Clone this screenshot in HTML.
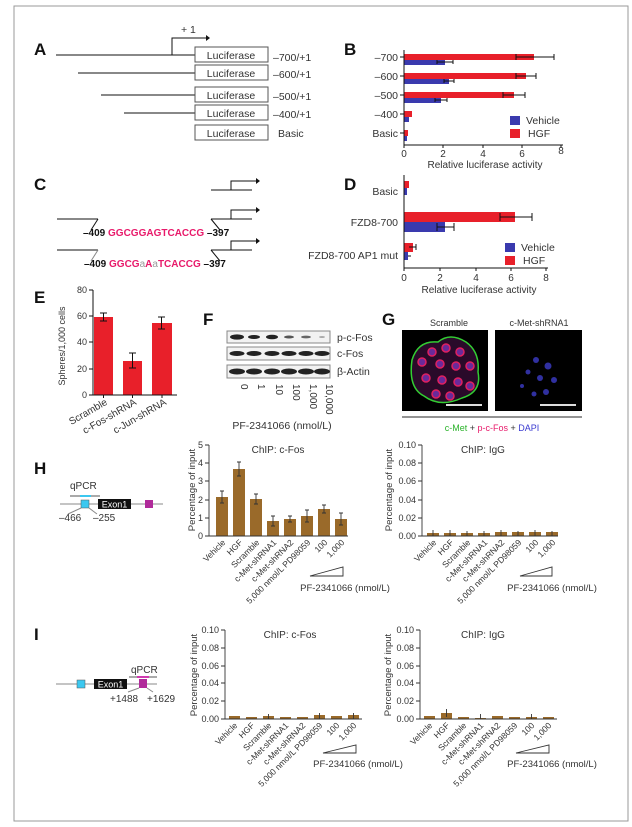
<!DOCTYPE html>
<html><head><meta charset="utf-8"><style>
html,body{margin:0;padding:0;background:#fff}
svg{display:block;font-family:"Liberation Sans",Arial,sans-serif}
</style></head><body>
<svg width="632" height="827" viewBox="0 0 632 827" xmlns="http://www.w3.org/2000/svg">
<rect x="14" y="6" width="614" height="815" fill="#fff" stroke="#999" stroke-width="1"/>
<g font-weight="bold" font-size="17" fill="#111">
<text x="34" y="55">A</text><text x="344" y="55">B</text><text x="34" y="190">C</text><text x="344" y="190">D</text>
<text x="34" y="303">E</text><text x="203" y="325">F</text><text x="382" y="325">G</text><text x="34" y="474">H</text><text x="34" y="640">I</text>
</g>
<!-- A -->
<g stroke="#111" stroke-width="1" fill="none">
<line x1="56" y1="55" x2="195" y2="55"/><polyline points="172,55 172,38 206,38"/>
<line x1="78" y1="73" x2="195" y2="73"/><line x1="101" y1="95" x2="195" y2="95"/><line x1="124" y1="113" x2="195" y2="113"/>
<rect x="195" y="47" width="73" height="15" stroke="#555"/><rect x="195" y="65" width="73" height="15" stroke="#555"/>
<rect x="195" y="87" width="73" height="15" stroke="#555"/><rect x="195" y="105" width="73" height="15" stroke="#555"/><rect x="195" y="125" width="73" height="15" stroke="#555"/>
</g>
<polygon points="206,35 210,38 206,41" fill="#111"/>
<g font-size="10.5" fill="#333">
<text x="181" y="33">+ 1</text>
<g text-anchor="middle"><text x="231" y="59">Luciferase</text><text x="231" y="77">Luciferase</text><text x="231" y="99">Luciferase</text><text x="231" y="117">Luciferase</text><text x="231" y="137">Luciferase</text></g>
<text x="273" y="61">–700/+1</text><text x="273" y="78">–600/+1</text><text x="273" y="100">–500/+1</text><text x="273" y="118">–400/+1</text><text x="278" y="137">Basic</text>
</g>
<!-- B -->
<g transform="translate(-5,0)">
<rect x="409" y="54" width="130" height="6" fill="#e8202a"/><rect x="409" y="60" width="41" height="5" fill="#3a3aae"/>
<rect x="409" y="73" width="122" height="6" fill="#e8202a"/><rect x="409" y="79" width="45" height="5" fill="#3a3aae"/>
<rect x="409" y="92" width="110" height="6" fill="#e8202a"/><rect x="409" y="98" width="37" height="5" fill="#3a3aae"/>
<rect x="409" y="111" width="8" height="6" fill="#e8202a"/><rect x="409" y="117" width="5" height="5" fill="#3a3aae"/>
<rect x="409" y="130" width="4" height="6" fill="#e8202a"/><rect x="409" y="136" width="3" height="5" fill="#3a3aae"/>
<g stroke="#111" stroke-width="1" fill="none">
<path d="M521 57H559M521 54v6M559 54v6M442 62H458M442 60v4M458 60v4M521 76H541M521 73v6M541 73v6M449 81H459M449 79v4M459 79v4M508 95H530M508 92v6M530 92v6M440 100H452M440 98v4M452 98v4"/>
<line x1="409" y1="50" x2="409" y2="145"/><line x1="409" y1="145" x2="568" y2="145"/>
<path d="M409 145v3M448 145v3M488 145v3M527 145v3M566 145v3"/>
<path d="M405 57h4M405 76h4M405 95h4M405 114h4M405 133h4"/>
</g>
<g font-size="10.5" fill="#333" text-anchor="end"><text x="403" y="61">–700</text><text x="403" y="80">–600</text><text x="403" y="99">–500</text><text x="403" y="118">–400</text><text x="403" y="137">Basic</text></g>
<g font-size="10" fill="#333" text-anchor="middle"><text x="409" y="157">0</text><text x="448" y="157">2</text><text x="488" y="157">4</text><text x="527" y="157">6</text><text x="566" y="154">8</text>
<text x="490" y="168">Relative luciferase activity</text></g>
<rect x="515" y="116" width="10" height="9" fill="#3a3aae"/><rect x="515" y="129" width="10" height="9" fill="#e8202a"/>
<g font-size="10.5" fill="#333"><text x="531" y="124">Vehicle</text><text x="533" y="137">HGF</text></g>
</g>
<!-- C -->
<g stroke="#111" stroke-width="1" fill="none">
<line x1="211" y1="190" x2="252" y2="190"/><polyline points="231,190 231,181 256,181"/>
<line x1="57" y1="219" x2="98" y2="219"/><line x1="98" y1="219" x2="91" y2="230"/>
<line x1="211" y1="219" x2="252" y2="219"/><line x1="211" y1="219" x2="220" y2="230"/><polyline points="231,219 231,210 256,210"/>
<line x1="57" y1="250" x2="98" y2="250"/><line x1="98" y1="250" x2="91" y2="261" stroke="#888"/>
<line x1="211" y1="250" x2="252" y2="250"/><line x1="211" y1="250" x2="220" y2="261"/><polyline points="231,250 231,241 256,241"/>
</g>
<g fill="#111"><polygon points="256,178 260,181 256,184"/><polygon points="256,207 260,210 256,213"/><polygon points="256,238 260,241 256,244"/></g>
<g font-size="10" font-weight="bold">
<text x="83" y="236" fill="#111">–409 <tspan fill="#e8196a">GGCGGAGTCACCG</tspan> –397</text>
<text x="84" y="267" fill="#111">–409 <tspan fill="#e8196a">GGCG</tspan><tspan fill="#999" font-weight="normal">a</tspan><tspan fill="#e8196a">A</tspan><tspan fill="#999" font-weight="normal">a</tspan><tspan fill="#e8196a">TCACCG</tspan> –397</text>
</g>
<!-- D -->
<g transform="translate(-5,0)">
<rect x="409" y="181" width="5" height="7" fill="#e8202a"/><rect x="409" y="188" width="3" height="7" fill="#3a3aae"/>
<rect x="409" y="212" width="111" height="10" fill="#e8202a"/><rect x="409" y="222" width="41" height="10" fill="#3a3aae"/>
<rect x="409" y="243" width="9" height="9" fill="#e8202a"/><rect x="409" y="252" width="4" height="8" fill="#3a3aae"/>
<g stroke="#111" stroke-width="1" fill="none">
<path d="M505 217H537M505 213v8M537 213v8M442 227H459M442 223v8M459 223v8M414 247H421M421 244v6M413 256h3"/>
<line x1="409" y1="175" x2="409" y2="268"/><line x1="409" y1="268" x2="553" y2="268"/>
<path d="M409 268v3M445 268v3M481 268v3M516 268v3M551 268v3"/>
</g>
<g font-size="10.5" fill="#333" text-anchor="end"><text x="403" y="195">Basic</text><text x="403" y="226">FZD8-700</text><text x="403" y="259">FZD8-700 AP1 mut</text></g>
<g font-size="10" fill="#333" text-anchor="middle"><text x="409" y="281">0</text><text x="445" y="281">2</text><text x="481" y="281">4</text><text x="516" y="281">6</text><text x="551" y="281">8</text>
<text x="484" y="293">Relative luciferase activity</text></g>
<rect x="510" y="243" width="10" height="9" fill="#3a3aae"/><rect x="510" y="256" width="10" height="9" fill="#e8202a"/>
<g font-size="10.5" fill="#333"><text x="526" y="251">Vehicle</text><text x="528" y="264">HGF</text></g>
</g>
<!-- E -->
<g>
<rect x="94" y="317" width="19" height="78" fill="#e8202a"/><rect x="123" y="361" width="19" height="34" fill="#e8202a"/><rect x="152" y="323" width="20" height="72" fill="#e8202a"/>
<g stroke="#111" stroke-width="1" fill="none">
<path d="M100 313h7M103.5 313v8M100 321h7M129 353h7M132.5 353v15M129 368h7M158 317h7M161.5 317v12M158 329h7"/>
<line x1="93" y1="290" x2="93" y2="395"/><line x1="93" y1="395" x2="177" y2="395"/>
<path d="M89 290h4M89 316h4M89 342h4M89 369h4M89 395h4M103.5 395v3M132.5 395v3M162 395v3"/>
</g>
<g font-size="9" fill="#333" text-anchor="end"><text x="87" y="293">80</text><text x="87" y="319">60</text><text x="87" y="345">40</text><text x="87" y="372">20</text><text x="87" y="398">0</text></g>
<text transform="translate(65,346) rotate(-90)" font-size="9" fill="#333" text-anchor="middle">Spheres/1,000 cells</text>
<g font-size="10" fill="#333" text-anchor="end">
<text transform="translate(108,404) rotate(-30)">Scramble</text><text transform="translate(137,404) rotate(-30)">c-Fos-shRNA</text><text transform="translate(167,404) rotate(-30)">c-Jun-shRNA</text></g>
</g>
<!-- F -->
<g>
<rect x="227" y="331" width="103" height="12" fill="#f2f2f2" stroke="#888"/><rect x="227" y="347" width="103" height="13" fill="#f2f2f2" stroke="#888"/><rect x="227" y="365" width="103" height="13" fill="#f2f2f2" stroke="#888"/>
<g fill="#222">
<ellipse cx="237" cy="337" rx="7" ry="2.6"/><ellipse cx="254" cy="337" rx="6" ry="2"/><ellipse cx="272" cy="337" rx="6" ry="2.3"/><ellipse cx="289" cy="337" rx="5" ry="1.5" fill="#555"/><ellipse cx="306" cy="337" rx="5" ry="1.4" fill="#666"/><ellipse cx="322" cy="337" rx="3" ry="1" fill="#aaa"/>
<ellipse cx="237" cy="353.5" rx="7.5" ry="2.5"/><ellipse cx="254" cy="353.5" rx="7.5" ry="2.5"/><ellipse cx="272" cy="353.5" rx="7.5" ry="2.5"/><ellipse cx="289" cy="353.5" rx="7.5" ry="2.5"/><ellipse cx="306" cy="353.5" rx="7.5" ry="2.5"/><ellipse cx="322" cy="353.5" rx="7.5" ry="2.5"/>
<ellipse cx="237" cy="371.5" rx="8" ry="3"/><ellipse cx="254" cy="371.5" rx="8" ry="3"/><ellipse cx="272" cy="371.5" rx="8" ry="3"/><ellipse cx="289" cy="371.5" rx="8" ry="3"/><ellipse cx="306" cy="371.5" rx="8" ry="3"/><ellipse cx="322" cy="371.5" rx="8" ry="3"/>
</g>
<g font-size="10.5" fill="#333"><text x="337" y="341">p-c-Fos</text><text x="337" y="357">c-Fos</text><text x="337" y="375">β-Actin</text></g>
<g font-size="10" fill="#333">
<text transform="translate(241,384) rotate(90)">0</text><text transform="translate(258,384) rotate(90)">1</text><text transform="translate(276,384) rotate(90)">10</text><text transform="translate(293,384) rotate(90)">100</text><text transform="translate(310,384) rotate(90)">1,000</text><text transform="translate(326,384) rotate(90)">10,000</text></g>
<text x="282" y="429" font-size="10.5" fill="#333" text-anchor="middle">PF-2341066 (nmol/L)</text>
</g>
<!-- G -->
<g>
<text x="449" y="326" font-size="9" fill="#333" text-anchor="middle">Scramble</text>
<text x="539" y="326" font-size="9" fill="#333" text-anchor="middle">c-Met-shRNA1</text>
<rect x="402" y="330" width="86" height="81" fill="#000"/><rect x="495" y="330" width="87" height="81" fill="#000"/>
<path d="M412 360 Q418 340 438 342 Q450 332 466 342 Q480 352 478 372 Q482 392 462 398 Q440 408 424 396 Q408 388 412 360Z" fill="#2a0a2a" stroke="#3c3" stroke-width="1.5"/>
<g fill="#6a2a9a" stroke="#e02060" stroke-width="1.5">
<circle cx="422" cy="362" r="4"/><circle cx="432" cy="352" r="4"/><circle cx="446" cy="348" r="4"/><circle cx="460" cy="352" r="4"/><circle cx="470" cy="366" r="4"/><circle cx="456" cy="366" r="4"/><circle cx="440" cy="364" r="4"/><circle cx="426" cy="378" r="4"/><circle cx="442" cy="380" r="4"/><circle cx="458" cy="382" r="4"/><circle cx="470" cy="386" r="4"/><circle cx="436" cy="394" r="4"/><circle cx="450" cy="396" r="4"/></g>
<g fill="#3030a0"><circle cx="536" cy="360" r="3"/><circle cx="548" cy="366" r="3.5"/><circle cx="540" cy="378" r="3"/><circle cx="528" cy="372" r="2.5"/><circle cx="554" cy="380" r="3"/><circle cx="522" cy="386" r="2"/><circle cx="546" cy="392" r="3"/><circle cx="534" cy="394" r="2.5"/></g>
<line x1="446" y1="405" x2="482" y2="405" stroke="#ddd" stroke-width="2"/><line x1="540" y1="405" x2="576" y2="405" stroke="#ddd" stroke-width="2"/>
<line x1="402" y1="417" x2="582" y2="417" stroke="#555" stroke-width="1.2"/>
<text x="492" y="431" font-size="9" text-anchor="middle"><tspan fill="#2bb32b">c-Met</tspan><tspan fill="#333"> + </tspan><tspan fill="#e8196a">p-c-Fos</tspan><tspan fill="#333"> + </tspan><tspan fill="#3a3ad0">DAPI</tspan></text>
</g>
<!-- H diagram -->
<g>
<line x1="60" y1="504" x2="163" y2="504" stroke="#888"/>
<line x1="70" y1="496" x2="100" y2="496" stroke="#555"/><line x1="80" y1="496" x2="91" y2="496" stroke="#3cc8f0" stroke-width="2"/>
<rect x="81" y="500" width="8" height="8" fill="#3cc8f0" stroke="#555" stroke-width="0.5"/>
<rect x="98" y="499" width="33" height="10" fill="#111"/><text x="114.5" y="507.5" font-size="9" fill="#fff" text-anchor="middle">Exon1</text>
<rect x="145" y="500" width="8" height="8" fill="#b02a9a"/>
<path d="M81 508 L68 514 M89 508 L97 514" stroke="#888" fill="none"/>
<g font-size="10" fill="#333"><text x="70" y="489">qPCR</text><text x="59" y="521">–466</text><text x="93" y="521">–255</text></g>
</g>
<!-- H ChIP c-Fos -->
<g>
<g fill="#9a6a2a"><rect x="216" y="497" width="12" height="39"/><rect x="233" y="469" width="12" height="67"/><rect x="250" y="499" width="12" height="37"/><rect x="267" y="521" width="12" height="15"/><rect x="284" y="519" width="12" height="17"/><rect x="301" y="516" width="12" height="20"/><rect x="318" y="509" width="12" height="27"/><rect x="335" y="519" width="12" height="17"/></g>
<g stroke="#333" fill="none" stroke-width="0.9">
<path d="M222 491v12M220 491h4M220 503h4M239 462v14M237 462h4M237 476h4M256 494v10M254 494h4M254 504h4M273 516v10M271 516h4M271 526h4M290 516v6M288 516h4M288 522h4M307 510v12M305 510h4M305 522h4M324 505v8M322 505h4M322 513h4M341 513v12M339 513h4M339 525h4"/>
<line x1="209" y1="445" x2="209" y2="536"/><line x1="209" y1="536" x2="348" y2="536"/>
<path d="M205 445h4M205 463h4M205 481h4M205 500h4M205 518h4M205 536h4"/>
<path d="M310 576 L343 576 L343 567 Z"/>
</g>
<g font-size="9" fill="#333" text-anchor="end"><text x="203" y="448">5</text><text x="203" y="466">4</text><text x="203" y="484">3</text><text x="203" y="503">2</text><text x="203" y="521">1</text><text x="203" y="539">0</text></g>
<text transform="translate(195,490) rotate(-90)" font-size="9.5" fill="#333" text-anchor="middle">Percentage of input</text>
<text x="278" y="453" font-size="10" fill="#333" text-anchor="middle">ChIP: c-Fos</text>
<g font-size="8.5" fill="#333" text-anchor="end">
<text transform="translate(226,543) rotate(-45)">Vehicle</text><text transform="translate(243,543) rotate(-45)">HGF</text><text transform="translate(260,543) rotate(-45)">Scramble</text><text transform="translate(277,543) rotate(-45)">c-Met-shRNA1</text><text transform="translate(294,543) rotate(-45)">c-Met-shRNA2</text><text transform="translate(311,543) rotate(-45)">5,000 nmol/L PD98059</text><text transform="translate(328,543) rotate(-45)">100</text><text transform="translate(345,543) rotate(-45)">1,000</text></g>
<text x="345" y="591" font-size="9.5" fill="#333" text-anchor="middle">PF-2341066 (nmol/L)</text>
</g>
<!-- H ChIP IgG -->
<g>
<g fill="#9a6a2a"><rect x="427" y="533" width="12" height="3"/><rect x="444" y="533" width="12" height="3"/><rect x="461" y="533" width="12" height="3"/><rect x="478" y="533" width="12" height="3"/><rect x="495" y="532" width="12" height="4"/><rect x="512" y="532" width="12" height="4"/><rect x="529" y="532" width="12" height="4"/><rect x="546" y="532" width="12" height="4"/></g>
<g stroke="#333" fill="none" stroke-width="0.9">
<path d="M433 530v6M450 530v6M467 531v5M484 531v5M501 530v6M518 531v5M535 530v6M552 531v5"/>
<line x1="422" y1="445" x2="422" y2="536"/><line x1="422" y1="536" x2="558" y2="536"/>
<path d="M418 445h4M418 463h4M418 481h4M418 500h4M418 518h4M418 536h4"/>
<path d="M520 576 L552 576 L552 567 Z"/>
</g>
<g font-size="9" fill="#333" text-anchor="end"><text x="416" y="448">0.10</text><text x="416" y="466">0.08</text><text x="416" y="484">0.06</text><text x="416" y="503">0.04</text><text x="416" y="521">0.02</text><text x="416" y="539">0.00</text></g>
<text transform="translate(392,490) rotate(-90)" font-size="9.5" fill="#333" text-anchor="middle">Percentage of input</text>
<text x="483" y="453" font-size="10" fill="#333" text-anchor="middle">ChIP: IgG</text>
<g font-size="8.5" fill="#333" text-anchor="end">
<text transform="translate(437,543) rotate(-45)">Vehicle</text><text transform="translate(454,543) rotate(-45)">HGF</text><text transform="translate(471,543) rotate(-45)">Scramble</text><text transform="translate(488,543) rotate(-45)">c-Met-shRNA1</text><text transform="translate(505,543) rotate(-45)">c-Met-shRNA2</text><text transform="translate(522,543) rotate(-45)">5,000 nmol/L PD98059</text><text transform="translate(539,543) rotate(-45)">100</text><text transform="translate(556,543) rotate(-45)">1,000</text></g>
<text x="552" y="591" font-size="9.5" fill="#333" text-anchor="middle">PF-2341066 (nmol/L)</text>
</g>
<!-- I diagram -->
<g>
<line x1="56" y1="684" x2="157" y2="684" stroke="#888"/>
<rect x="77" y="680" width="8" height="8" fill="#3cc8f0" stroke="#555" stroke-width="0.5"/>
<rect x="94" y="679" width="33" height="10" fill="#111"/><text x="110.5" y="687.5" font-size="9" fill="#fff" text-anchor="middle">Exon1</text>
<line x1="129" y1="677" x2="157" y2="677" stroke="#555"/><line x1="137" y1="677" x2="149" y2="677" stroke="#d03ab0" stroke-width="2"/>
<rect x="139" y="679" width="8" height="9" fill="#b02a9a"/>
<path d="M139 688 L128 692 M147 688 L153 692" stroke="#888" fill="none"/>
<g font-size="10" fill="#333"><text x="131" y="673">qPCR</text><text x="110" y="702">+1488</text><text x="147" y="702">+1629</text></g>
</g>
<!-- I ChIP c-Fos -->
<g>
<g fill="#9a6a2a"><rect x="229" y="716" width="11" height="3"/><rect x="246" y="717" width="11" height="2"/><rect x="263" y="716" width="11" height="3"/><rect x="280" y="717" width="11" height="2"/><rect x="297" y="717" width="11" height="2"/><rect x="314" y="715" width="11" height="4"/><rect x="331" y="716" width="11" height="3"/><rect x="348" y="715" width="11" height="4"/></g>
<g stroke="#333" fill="none" stroke-width="0.9">
<path d="M268.5 714v5M319.5 713v6M353.5 713v6"/>
<line x1="225" y1="630" x2="225" y2="719"/><line x1="225" y1="719" x2="362" y2="719"/>
<path d="M221 630h4M221 648h4M221 666h4M221 683h4M221 701h4M221 719h4"/>
<path d="M323 753 L356 753 L356 745 Z"/>
</g>
<g font-size="9" fill="#333" text-anchor="end"><text x="219" y="633">0.10</text><text x="219" y="651">0.08</text><text x="219" y="669">0.06</text><text x="219" y="686">0.04</text><text x="219" y="704">0.02</text><text x="219" y="722">0.00</text></g>
<text transform="translate(197,675) rotate(-90)" font-size="9.5" fill="#333" text-anchor="middle">Percentage of input</text>
<text x="290" y="638" font-size="10" fill="#333" text-anchor="middle">ChIP: c-Fos</text>
<g font-size="8.5" fill="#333" text-anchor="end">
<text transform="translate(238,726) rotate(-45)">Vehicle</text><text transform="translate(255,726) rotate(-45)">HGF</text><text transform="translate(272,726) rotate(-45)">Scramble</text><text transform="translate(289,726) rotate(-45)">c-Met-shRNA1</text><text transform="translate(306,726) rotate(-45)">c-Met-shRNA2</text><text transform="translate(323,726) rotate(-45)">5,000 nmol/L PD98059</text><text transform="translate(340,726) rotate(-45)">100</text><text transform="translate(357,726) rotate(-45)">1,000</text></g>
<text x="358" y="767" font-size="9.5" fill="#333" text-anchor="middle">PF-2341066 (nmol/L)</text>
</g>
<!-- I ChIP IgG -->
<g>
<g fill="#9a6a2a"><rect x="424" y="716" width="11" height="3"/><rect x="441" y="713" width="11" height="6"/><rect x="458" y="717" width="11" height="2"/><rect x="475" y="718" width="11" height="1"/><rect x="492" y="716" width="11" height="3"/><rect x="509" y="717" width="11" height="2"/><rect x="526" y="717" width="11" height="2"/><rect x="543" y="717" width="11" height="2"/></g>
<g stroke="#333" fill="none" stroke-width="0.9">
<path d="M446.5 709v8M480.5 714v5M531.5 714v5"/>
<line x1="420" y1="630" x2="420" y2="719"/><line x1="420" y1="719" x2="557" y2="719"/>
<path d="M416 630h4M416 648h4M416 666h4M416 683h4M416 701h4M416 719h4"/>
<path d="M516 753 L549 753 L549 745 Z"/>
</g>
<g font-size="9" fill="#333" text-anchor="end"><text x="414" y="633">0.10</text><text x="414" y="651">0.08</text><text x="414" y="669">0.06</text><text x="414" y="686">0.04</text><text x="414" y="704">0.02</text><text x="414" y="722">0.00</text></g>
<text transform="translate(391,675) rotate(-90)" font-size="9.5" fill="#333" text-anchor="middle">Percentage of input</text>
<text x="483" y="638" font-size="10" fill="#333" text-anchor="middle">ChIP: IgG</text>
<g font-size="8.5" fill="#333" text-anchor="end">
<text transform="translate(433,726) rotate(-45)">Vehicle</text><text transform="translate(450,726) rotate(-45)">HGF</text><text transform="translate(467,726) rotate(-45)">Scramble</text><text transform="translate(484,726) rotate(-45)">c-Met-shRNA1</text><text transform="translate(501,726) rotate(-45)">c-Met-shRNA2</text><text transform="translate(518,726) rotate(-45)">5,000 nmol/L PD98059</text><text transform="translate(535,726) rotate(-45)">100</text><text transform="translate(552,726) rotate(-45)">1,000</text></g>
<text x="552" y="767" font-size="9.5" fill="#333" text-anchor="middle">PF-2341066 (nmol/L)</text>
</g>
</svg>
</body></html>
